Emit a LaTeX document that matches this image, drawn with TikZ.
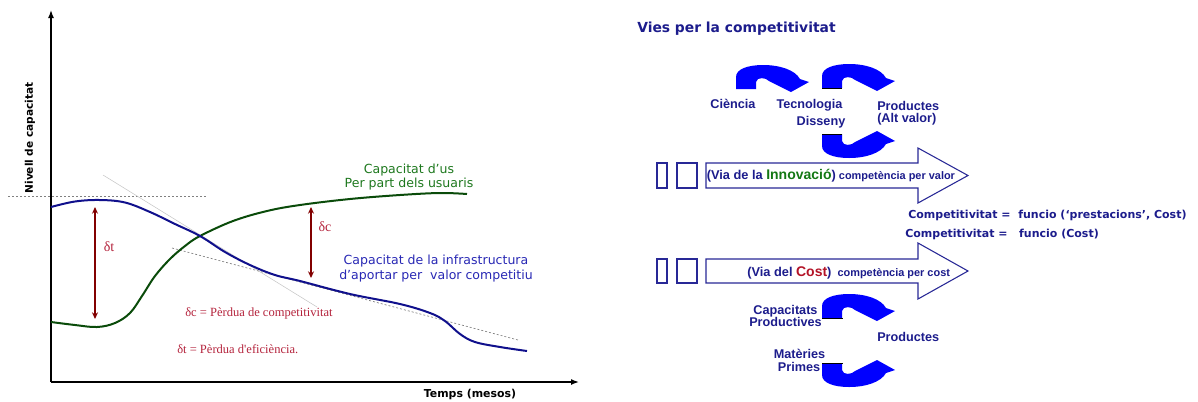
\documentclass[tikz,border=0pt]{standalone}
\usepackage{fontspec}
\usetikzlibrary{arrows.meta}
\newfontfamily\dvs{DejaVu Sans}
\newfontfamily\lsans{Liberation Sans}
\newfontfamily\lserif{Liberation Serif}
\definecolor{navyt}{RGB}{28,28,140}
\definecolor{curveblue}{RGB}{16,16,140}
\definecolor{curvegreen}{RGB}{10,75,10}
\definecolor{txtgreen}{RGB}{30,120,30}
\definecolor{txtblue}{RGB}{40,40,180}
\definecolor{darkred}{RGB}{130,0,0}
\definecolor{lblred}{RGB}{180,35,60}
\definecolor{arrblue}{RGB}{0,0,255}
\definecolor{outl}{RGB}{40,40,150}
\definecolor{innogreen}{RGB}{20,120,20}
\definecolor{costred}{RGB}{180,20,40}
\tikzset{
  axisline/.style={line width=1.1pt, -{Latex[length=6pt,width=4.5pt]}},
  curveb/.style={line width=1.5pt, curveblue},
  curveg/.style={line width=1.5pt, curvegreen},
  thingray/.style={line width=0.4pt, gray!45},
  dashgray/.style={line width=0.5pt, gray, dash pattern=on 1.5pt off 1.5pt},
  redarr/.style={line width=1pt, darkred, {Stealth[length=5pt,width=4.5pt]}-{Stealth[length=5pt,width=4.5pt]}},
  lefttxt/.style={inner sep=0pt, anchor=base, font=\dvs\fontsize{9.4}{11}\selectfont},
  redtxt/.style={inner sep=0pt, anchor=base west, text=lblred, font=\lserif\fontsize{9.4}{11}\selectfont},
  deltatxt/.style={inner sep=0pt, anchor=base, text=lblred, font=\lserif\fontsize{10.5}{12}\selectfont},
  rlabel/.style={inner sep=0pt, anchor=base, text=navyt, font=\lsans\bfseries\fontsize{9.5}{11}\selectfont},
  formula/.style={inner sep=0pt, anchor=base west, text=navyt, font=\dvs\bfseries\fontsize{8.25}{10}\selectfont},
  blockarr/.style={draw=outl, line width=0.8pt, fill=white},
  curvarr/.pic={
    \fill[arrblue] (0,0) -- (0,-12) .. controls (0,-20) and (12,-24) .. (27,-24)
      .. controls (44,-24) and (59,-19) .. (64,-10) -- (73,-7) -- (55,3) -- (33,-8)
      .. controls (30,-11.5) and (21,-12.5) .. (20,-7) -- (20,0) -- cycle;
  }
}
\begin{document}
\begin{tikzpicture}[x=0.75pt,y=-0.75pt]
\useasboundingbox (0,0) rectangle (1198,401);
% ---------------- left chart ----------------
\coordinate (O) at (51,382);
\coordinate (ytop) at (51,10);
\coordinate (xend) at (579,382);
\draw[axisline] (O) -- (ytop);
\draw[axisline] (O) -- (xend);
\node[rotate=90, inner sep=0pt, font=\dvs\bfseries\fontsize{7.9}{9}\selectfont] (ylab) at (30,138) {Nivell de capacitat};
\node[inner sep=0pt, anchor=base, font=\dvs\bfseries\fontsize{8.2}{10}\selectfont] (xlab) at (470,397) {Temps (mesos)};

\draw[dashgray] (8,196) -- (207,196);
\draw[thingray] (103,175) -- (317,307);
\draw[dashgray] (172,248) -- (518,340);

\draw[curveg] plot[smooth, tension=0.6] coordinates {(51,322) (75,325) (97,327) (115,323) (130,313) (142,296) (155,276) (170,259) (185,246) (200,236) (233,221) (267,211) (300,205) (350,199) (400,195) (440,193) (467,194)};
\draw[curveb] plot[smooth, tension=0.6] coordinates {(51,207) (75,201.5) (100,200) (125,202.5) (150,212) (175,224) (200,236) (225,252) (250,265) (275,275) (300,281) (350,294) (400,304) (430,313) (445,321) (460,334) (475,342) (500,347) (527,351)};

\coordinate (dt1) at (95,207);
\coordinate (dt2) at (95,319);
\coordinate (dc1) at (311,207);
\coordinate (dc2) at (311,278);
\draw[redarr] (dt1) -- (dt2);
\draw[redarr] (dc1) -- (dc2);
\node[deltatxt] (dtl) at (109,251.5) {δt};
\node[deltatxt] (dcl) at (325,231.5) {δc};

\node[lefttxt, text=txtgreen] (us1) at (409,173.3) {Capacitat d’us};
\node[lefttxt, text=txtgreen] (us2) at (409,187.3) {Per part dels usuaris};
\node[lefttxt, text=txtblue] (inf1) at (436,264) {Capacitat de la infrastructura};
\node[lefttxt, text=txtblue] (inf2) at (436,279) {d’aportar per\ \ valor competitiu};

\node[redtxt] (pc) at (185,316.7) {δc = Pèrdua de competitivitat};
\node[redtxt] (pe) at (177,353.3) {δt = Pèrdua d'eficiència.};

% ---------------- right diagram ----------------
\node[inner sep=0pt, anchor=base west, text=navyt, font=\dvs\bfseries\fontsize{10.4}{12}\selectfont] (title) at (637,32) {Vies per la competitivitat};

\pic at (736,89) {curvarr};
\pic at (822,88) {curvarr};
\pic[yscale=-1] at (822,134) {curvarr};
\pic at (822,318) {curvarr};
\pic[yscale=-1] at (822,363) {curvarr};
\draw[black, line width=0.6pt] (822,88) -- (842,88);
\draw[black, line width=0.6pt] (822,134) -- (842,134);
\draw[black, line width=0.6pt] (822,318) -- (843,318);
\draw[black, line width=0.6pt] (822,363) -- (843,363);

\node[rlabel] (cien) at (733,108.5) {Ciència};
\node[rlabel] (tecn) at (809.5,108.5) {Tecnologia};
\node[rlabel] (diss) at (821,125) {Disseny};
\node[rlabel, anchor=base west] (prod1) at (877,110.7) {Productes};
\node[rlabel, anchor=base west] (altv) at (877,122.7) {(Alt valor)};

\node[rlabel] (capa) at (785.5,314) {Capacitats};
\node[rlabel] (prodv) at (785.5,326.7) {Productives};
\node[rlabel, anchor=base west] (prod2) at (877,341.7) {Productes};
\node[rlabel] (mate) at (799.5,358.3) {Matèries};
\node[rlabel] (prim) at (799,371) {Primes};

% block arrows
\draw[blockarr] (706,163) -- (918,163) -- (918,148) -- (968,175.5) -- (918,203) -- (918,188) -- (706,188) -- cycle;
\draw[blockarr] (706,259) -- (918,259) -- (918,243) -- (968,271) -- (918,299) -- (918,283) -- (706,283) -- cycle;
\draw[draw=outl, line width=0.8pt] (657,163) rectangle (667,188);
\draw[draw=outl, line width=0.8pt] (677,163) rectangle (697,188);
\draw[draw=outl, line width=0.8pt] (657,259) rectangle (667,283);
\draw[draw=outl, line width=0.8pt] (677,259) rectangle (697,283);

\node[inner sep=0pt, anchor=base west, text=navyt, font=\lsans\bfseries] (via1) at (706.5,179.3)
  {\fontsize{9.6}{11}\selectfont(Via de la \textcolor{innogreen}{\fontsize{10.5}{12}\selectfont Innovació})\fontsize{8.2}{10}\selectfont\ competència per valor};
\node[inner sep=0pt, anchor=base west, text=navyt, font=\lsans\bfseries] (via2) at (747,276.7)
  {\fontsize{9.6}{11}\selectfont(Via del \textcolor{costred}{\fontsize{10.5}{12}\selectfont Cost})\fontsize{8.2}{10}\selectfont\ \ competència per cost};

\node[formula] (f1) at (908,218.3) {Competitivitat =\ \ funcio (‘prestacions’, Cost)};
\node[formula] (f2) at (905,237.3) {Competitivitat =\ \ \ funcio (Cost)};
\end{tikzpicture}
\end{document}
